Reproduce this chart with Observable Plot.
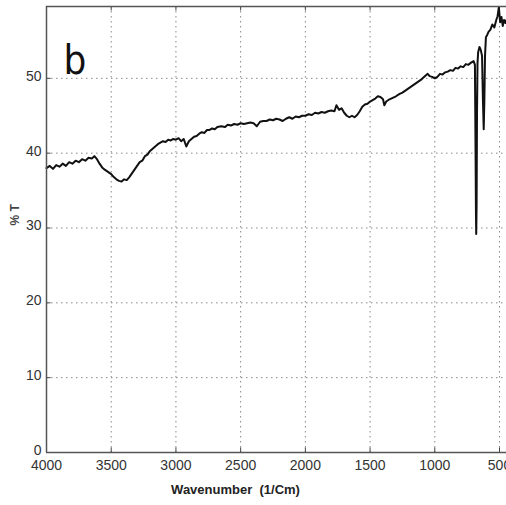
<!DOCTYPE html>
<html><head><meta charset="utf-8">
<script src="https://cdn.jsdelivr.net/npm/d3@7"></script>
<script src="https://cdn.jsdelivr.net/npm/@observablehq/plot@0.6"></script>
<style>body{margin:0;background:#fff;overflow:hidden} #chart{width:506px;height:505px}</style>
</head><body><div id="chart"></div>
<script>
const wavenumber = [4000,3975,3950,3925,3900,3875,3850,3825,3800,3775,3750,3725,3700,3675,3650,3630,3610,3590,3570,3550,3525,3500,3480,3460,3440,3420,3400,3380,3360,3340,3320,3300,3280,3260,3240,3220,3200,3180,3160,3140,3120,3100,3080,3060,3040,3020,3000,2980,2960,2940,2920,2900,2880,2860,2840,2820,2800,2780,2760,2740,2720,2700,2680,2650,2620,2600,2575,2550,2525,2500,2475,2450,2425,2400,2375,2350,2325,2300,2275,2250,2225,2200,2175,2150,2125,2100,2075,2050,2025,2000,1975,1950,1925,1900,1875,1850,1825,1800,1775,1760,1740,1720,1700,1680,1660,1640,1620,1600,1580,1560,1540,1520,1500,1480,1460,1440,1420,1400,1390,1375,1350,1325,1300,1275,1250,1225,1200,1175,1150,1125,1100,1075,1055,1040,1020,1000,980,960,940,920,900,880,860,840,820,800,780,760,740,720,700,690,685,682,680,677,674,670,665,655,645,635,628,622,617,612,605,595,585,570,555,540,525,515,505,495,485,475,465,455,446];
const transmittance = [38.0,38.3,37.9,38.4,38.2,38.6,38.3,38.8,38.6,39.0,38.8,39.2,39.0,39.4,39.3,39.6,39.2,38.6,38.1,37.8,37.5,37.2,36.8,36.5,36.3,36.2,36.5,36.4,36.8,37.3,37.8,38.3,38.8,39.0,39.6,39.8,40.3,40.6,40.9,41.2,41.4,41.6,41.5,41.8,41.7,41.9,41.8,42.0,41.6,41.9,40.9,41.6,41.9,42.2,42.3,42.6,42.8,42.7,43.1,43.1,43.3,43.2,43.5,43.6,43.5,43.8,43.7,43.9,43.8,44.0,43.9,44.0,44.1,44.0,43.6,44.2,44.3,44.3,44.5,44.4,44.6,44.5,44.3,44.6,44.8,44.6,44.9,44.8,45.0,45.0,45.2,45.1,45.4,45.3,45.5,45.4,45.6,45.7,45.6,46.4,45.8,46.0,45.4,45.0,44.8,45.0,44.8,45.1,45.6,46.2,46.5,46.6,46.9,47.1,47.3,47.6,47.5,47.2,46.4,46.9,47.2,47.4,47.6,47.9,48.1,48.4,48.7,49.0,49.3,49.6,49.9,50.3,50.6,50.3,50.2,50.0,50.2,50.6,50.5,50.8,50.9,51.1,51.0,51.4,51.3,51.6,51.5,51.9,51.8,52.1,52.3,51.8,40.0,32.0,29.2,33.0,45.0,52.0,53.5,54.2,53.8,53.0,47.0,43.2,47.0,53.0,55.5,55.8,56.2,56.5,57.2,56.8,57.8,58.3,59.5,57.5,58.2,57.0,57.8,57.4,57.8];
const xTicks = [4000,3500,3000,2500,2000,1500,1000,500];
const yTicks = [0,10,20,30,40,50];
const xLabel = "Wavenumber  (1/Cm)";
const yLabel = "% T";
const panelLabel = "b";

const spectrum = wavenumber.map((w, i) => ({w, t: transmittance[i]}));
const font = "'Liberation Sans',Arial,sans-serif";
const yMax = 59.6, xMin = 446;

const chart = Plot.plot({
  width: 506, height: 505,
  marginLeft: 46, marginRight: 0, marginTop: 6, marginBottom: 53,
  style: {fontFamily: font, fontSize: "14px", color: "#333", background: "#fff"},
  x: {domain: [4000, xMin]},
  y: {domain: [0, yMax]},
  marks: [
    Plot.ruleX(xTicks.slice(1), {stroke: "#888", strokeDasharray: "1.5,3.5", strokeWidth: 1}),
    Plot.ruleY(yTicks.slice(1), {stroke: "#888", strokeDasharray: "1.5,3.5", strokeWidth: 1}),
    Plot.ruleX(xTicks, {y1: 0, y2: 0.6, stroke: "#444"}),
    Plot.ruleX(xTicks, {y1: yMax - 0.6, y2: yMax, stroke: "#444"}),
    Plot.ruleY(yTicks, {x1: 4000, x2: 3965, stroke: "#444"}),
    Plot.line(spectrum, {x: "w", y: "t", stroke: "#111", strokeWidth: 2}),
    Plot.ruleX([4000], {stroke: "#555", strokeWidth: 1.5}),
    Plot.ruleY([0, yMax], {stroke: "#555", strokeWidth: 1.5}),
    Plot.axisX(xTicks, {tickSize: 0, tickPadding: 8, label: null, tickFormat: d => String(d)}),
    Plot.axisY(yTicks, {tickSize: 0, tickPadding: 5, dy: -2, label: null}),
    Plot.text([xLabel], {frameAnchor: "bottom", dx: -41, dy: 41, fontWeight: "bold", fontSize: 13, fill: "#222"}),
    Plot.text([yLabel], {frameAnchor: "left", dx: -31, dy: -4, rotate: -90, fontWeight: "bold", fontSize: 12, fill: "#444"}),
    Plot.text([panelLabel], {frameAnchor: "top-left", dx: 17, dy: 39, fontSize: 40, textAnchor: "start", fill: "#111", fontFamily: "'DejaVu Sans Condensed','DejaVu Sans',sans-serif"})
  ]
});
document.getElementById("chart").append(chart);
</script>
</body></html>
